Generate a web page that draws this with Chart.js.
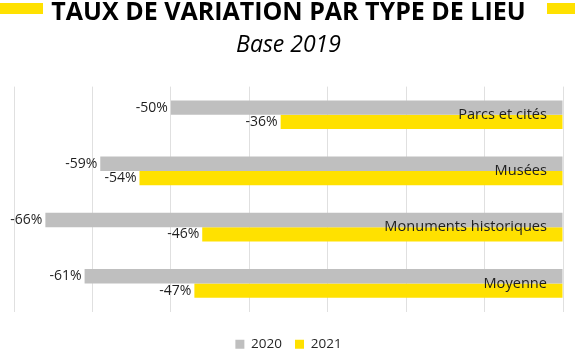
<!DOCTYPE html>
<html>
<head>
<meta charset="utf-8">
<script src="https://cdn.jsdelivr.net/npm/chart.js@4"></script>
<style>
  html, body { margin: 0; padding: 0; background: #fff; }
  #wrap { width: 575px; height: 358px; }
</style>
</head>
<body>
<div id="wrap"><canvas id="chart"></canvas></div>
<script>
// Data
const categories = ['Parcs et cités', 'Musées', 'Monuments historiques', 'Moyenne'];
const values2020 = [-50, -59, -66, -61];
const values2021 = [-36, -54, -46, -47];
const seriesNames = ['2020', '2021'];

const GREY = '#bfbfbf';
const YELLOW = '#ffe100';
const FONT = "'Open Sans', sans-serif";

// Value labels at the left end of each bar + category names on the right
const barLabels = {
  id: 'barLabels',
  afterDatasetsDraw(chart) {
    const { ctx } = chart;
    ctx.save();
    ctx.fillStyle = '#1f1f1f';
    ctx.font = `14px ${FONT}`;
    ctx.textBaseline = 'middle';
    ctx.textAlign = 'right';
    chart.data.datasets.forEach((ds, di) => {
      chart.getDatasetMeta(di).data.forEach((bar, i) => {
        ctx.fillText(ds.data[i] + '%', bar.x - 3, bar.y);
      });
    });
    const y = chart.scales.y;
    const right = chart.chartArea.right - 16;
    ctx.font = `14.6px ${FONT}`;
    categories.forEach((c, i) => {
      ctx.fillText(c, right, y.getPixelForValue(i));
    });
    ctx.restore();
  },
};

// Yellow bars either side of the title
const titleBars = {
  id: 'titleBars',
  afterDraw(chart) {
    const { ctx } = chart;
    ctx.save();
    ctx.fillStyle = YELLOW;
    ctx.fillRect(0, 3, 43, 11);
    ctx.fillRect(547, 3, 28, 11);
    ctx.restore();
  },
};

const chart = new Chart(document.getElementById('chart'), {
  type: 'bar',
  data: {
    labels: categories,
    datasets: [
      {
        label: seriesNames[0],
        data: values2020,
        backgroundColor: GREY,
        barPercentage: 1,
        categoryPercentage: 0.51,
      },
      {
        label: seriesNames[1],
        data: values2021,
        backgroundColor: YELLOW,
        barPercentage: 1,
        categoryPercentage: 0.51,
      },
    ],
  },
  options: {
    indexAxis: 'y',
    responsive: true,
    maintainAspectRatio: false,
    animation: false,
    layout: {
      padding: { top: 0, bottom: -3, left: 14, right: 12 },
    },
    scales: {
      x: {
        min: -70,
        max: 0,
        ticks: { display: false, stepSize: 10 },
        grid: { color: '#e0e0e0', drawTicks: false },
        border: { display: false },
      },
      y: {
        display: false,
      },
    },
    plugins: {
      title: {
        display: true,
        text: 'TAUX DE VARIATION PAR TYPE DE LIEU',
        color: '#000',
        font: { family: FONT, size: 25, weight: 'bold', lineHeight: 1 },
        padding: { top: 0, bottom: 7 },
      },
      subtitle: {
        display: true,
        text: 'Base 2019',
        color: '#000',
        font: { family: FONT, size: 23, style: 'italic' },
        padding: { top: 0, bottom: 27 },
      },
      legend: {
        position: 'bottom',
        title: {
          display: true,
          text: ' ',
          font: { size: 13, lineHeight: 1 },
          padding: 0,
        },
        labels: {
          color: '#262626',
          font: { family: FONT, size: 13.5 },
          boxWidth: 9,
          boxHeight: 9,
          padding: 13,
        },
      },
      tooltip: { enabled: false },
    },
  },
  plugins: [barLabels, titleBars],
});
</script>
</body>
</html>
